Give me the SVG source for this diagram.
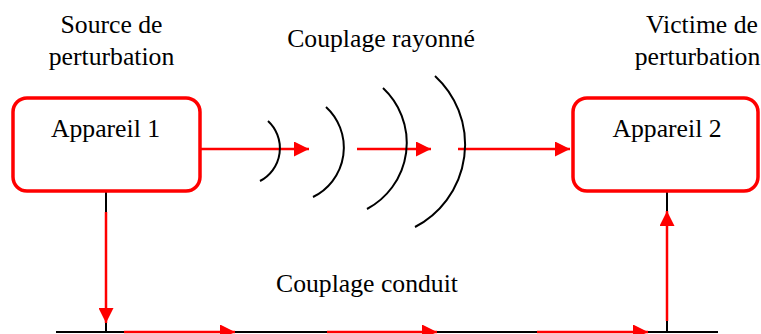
<svg xmlns="http://www.w3.org/2000/svg" width="761" height="334" viewBox="0 0 761 334">
<style>
text{font-family:'Liberation Serif','Times New Roman',serif;font-size:25.7px;fill:#000;text-anchor:middle}
.box{fill:#fff;stroke:#ff0000;stroke-width:3.5}
.red{stroke:#ff0000;stroke-width:2.5;fill:none}
.blk{stroke:#000;stroke-width:2;fill:none}
.arc{stroke:#000;stroke-width:2;fill:none}
</style>
<defs>
<marker id="ah" viewBox="0 0 15 15" refX="15" refY="7.5" markerWidth="15" markerHeight="15" markerUnits="userSpaceOnUse" orient="auto">
<path d="M0,0 L15,7.5 L0,15 z" fill="#ff0000"/>
</marker>
</defs>
<rect width="761" height="334" fill="#fff"/>
<g id="labels">
<text x="111.5" y="33">Source de</text>
<text x="111.5" y="65">perturbation</text>
<text x="381" y="47">Couplage rayonné</text>
<text x="702" y="33">Victime de</text>
<text x="697.5" y="65">perturbation</text>
<text x="367" y="292">Couplage conduit</text>
</g>
<g id="connectors">
<line class="blk" x1="56" y1="332" x2="718" y2="332"/>
<line class="blk" x1="106" y1="192" x2="106" y2="332"/>
<line class="blk" x1="667" y1="192" x2="667" y2="332"/>
<line class="red" x1="106" y1="212" x2="106" y2="323" marker-end="url(#ah)"/>
<line class="red" x1="667" y1="321" x2="667" y2="211" marker-end="url(#ah)"/>
<line class="red" x1="124" y1="332" x2="235" y2="332" marker-end="url(#ah)"/>
<line class="red" x1="327" y1="332" x2="437" y2="332" marker-end="url(#ah)"/>
<line class="red" x1="537" y1="332" x2="648" y2="332" marker-end="url(#ah)"/>
<line class="red" x1="200" y1="149" x2="309" y2="149" marker-end="url(#ah)"/>
<line class="red" x1="357" y1="149" x2="431" y2="149" marker-end="url(#ah)"/>
<line class="red" x1="458" y1="149" x2="570" y2="149" marker-end="url(#ah)"/>
<path class="arc" d="M268,121 A37,37 0 0 1 260,181"/>
<path class="arc" d="M326,107 A55,55 0 0 1 313,197"/>
<path class="arc" d="M383,88 A75,75 0 0 1 367,209"/>
<path class="arc" d="M435,76 A93,93 0 0 1 415,227"/>
</g>
<g id="appareil1">
<rect class="box" x="13" y="98" width="187" height="93" rx="14"/>
<text x="105.5" y="137">Appareil 1</text>
</g>
<g id="appareil2">
<rect class="box" x="573" y="98" width="185" height="93" rx="14"/>
<text x="667" y="137">Appareil 2</text>
</g>
</svg>
